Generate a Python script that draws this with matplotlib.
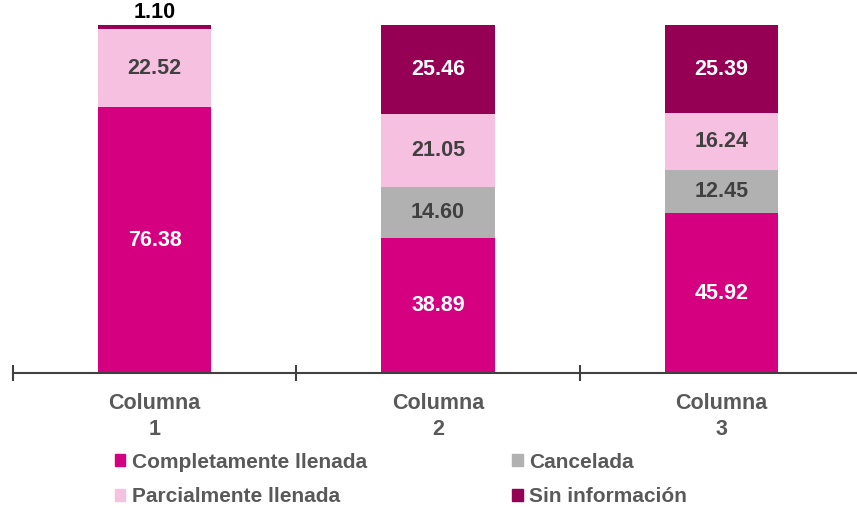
import matplotlib.pyplot as plt
from matplotlib.patches import Patch

plt.rcParams['font.family'] = ['Liberation Sans', 'DejaVu Sans']

categories = ['Columna\n1', 'Columna\n2', 'Columna\n3']
completa = [76.38, 38.89, 45.92]
cancelada = [0.0, 14.60, 12.45]
parcial = [22.52, 21.05, 16.24]
sin_info = [1.10, 25.46, 25.39]

series = [
    ('Completamente llenada', completa, '#D5007F', 'white'),
    ('Cancelada', cancelada, '#B1B1B1', '#404040'),
    ('Parcialmente llenada', parcial, '#F6C1E1', '#404040'),
    ('Sin información', sin_info, '#960054', 'white'),
]

fig = plt.figure(figsize=(8.57, 5.08), dpi=100)
ax = fig.add_axes([0.0152, 0.2648, 0.992, 0.6860])

x = list(range(len(categories)))
bottom = [0.0] * len(categories)
for name, vals, color, tcolor in series:
    ax.bar(x, vals, 0.4, bottom=bottom, color=color, label=name)
    for i, v in enumerate(vals):
        if v <= 0:
            continue
        if v < 5:
            # small segment: label sits above the bar
            ax.text(x[i], bottom[i] + v + 0.6, f'{v:.2f}', ha='center', va='bottom',
                    fontsize=15.5, fontweight='bold', color='black')
        else:
            ax.text(x[i], bottom[i] + v / 2, f'{v:.2f}', ha='center', va='center',
                    fontsize=15.5, fontweight='bold', color=tcolor)
    bottom = [b + v for b, v in zip(bottom, vals)]

ax.set_xlim(-0.5, len(categories) - 0.5)
ax.set_ylim(0, 100)
for s in ['top', 'right', 'left']:
    ax.spines[s].set_visible(False)
ax.spines['bottom'].set_color('#404040')
ax.spines['bottom'].set_linewidth(1.5)
ax.set_yticks([])
ax.set_xticks(x)
ax.set_xticklabels(categories, fontsize=15.5, fontweight='bold', color='#595959',
                   linespacing=1.3)
ax.tick_params(axis='x', which='major', length=0, pad=14)
ax.set_xticks([-0.5, 0.5, 1.5, 2.5], minor=True)
ax.tick_params(axis='x', which='minor', length=12, width=1.5, direction='inout',
               color='#404040')

order = [0, 2, 1, 3]
handles = [Patch(color=series[i][2]) for i in order]
labels = [series[i][0] for i in order]
fig.legend(handles, labels, ncol=2, loc='upper left', bbox_to_anchor=(0.134, 0.109),
           frameon=False, handlelength=0.5, handleheight=0.5,
           handletextpad=0.3, columnspacing=7.0, labelspacing=0.74,
           borderaxespad=0, borderpad=0,
           prop={'weight': 'bold', 'size': 15})
for t in fig.legends[0].get_texts():
    t.set_color('#595959')

fig.savefig('out.png', dpi=100)
